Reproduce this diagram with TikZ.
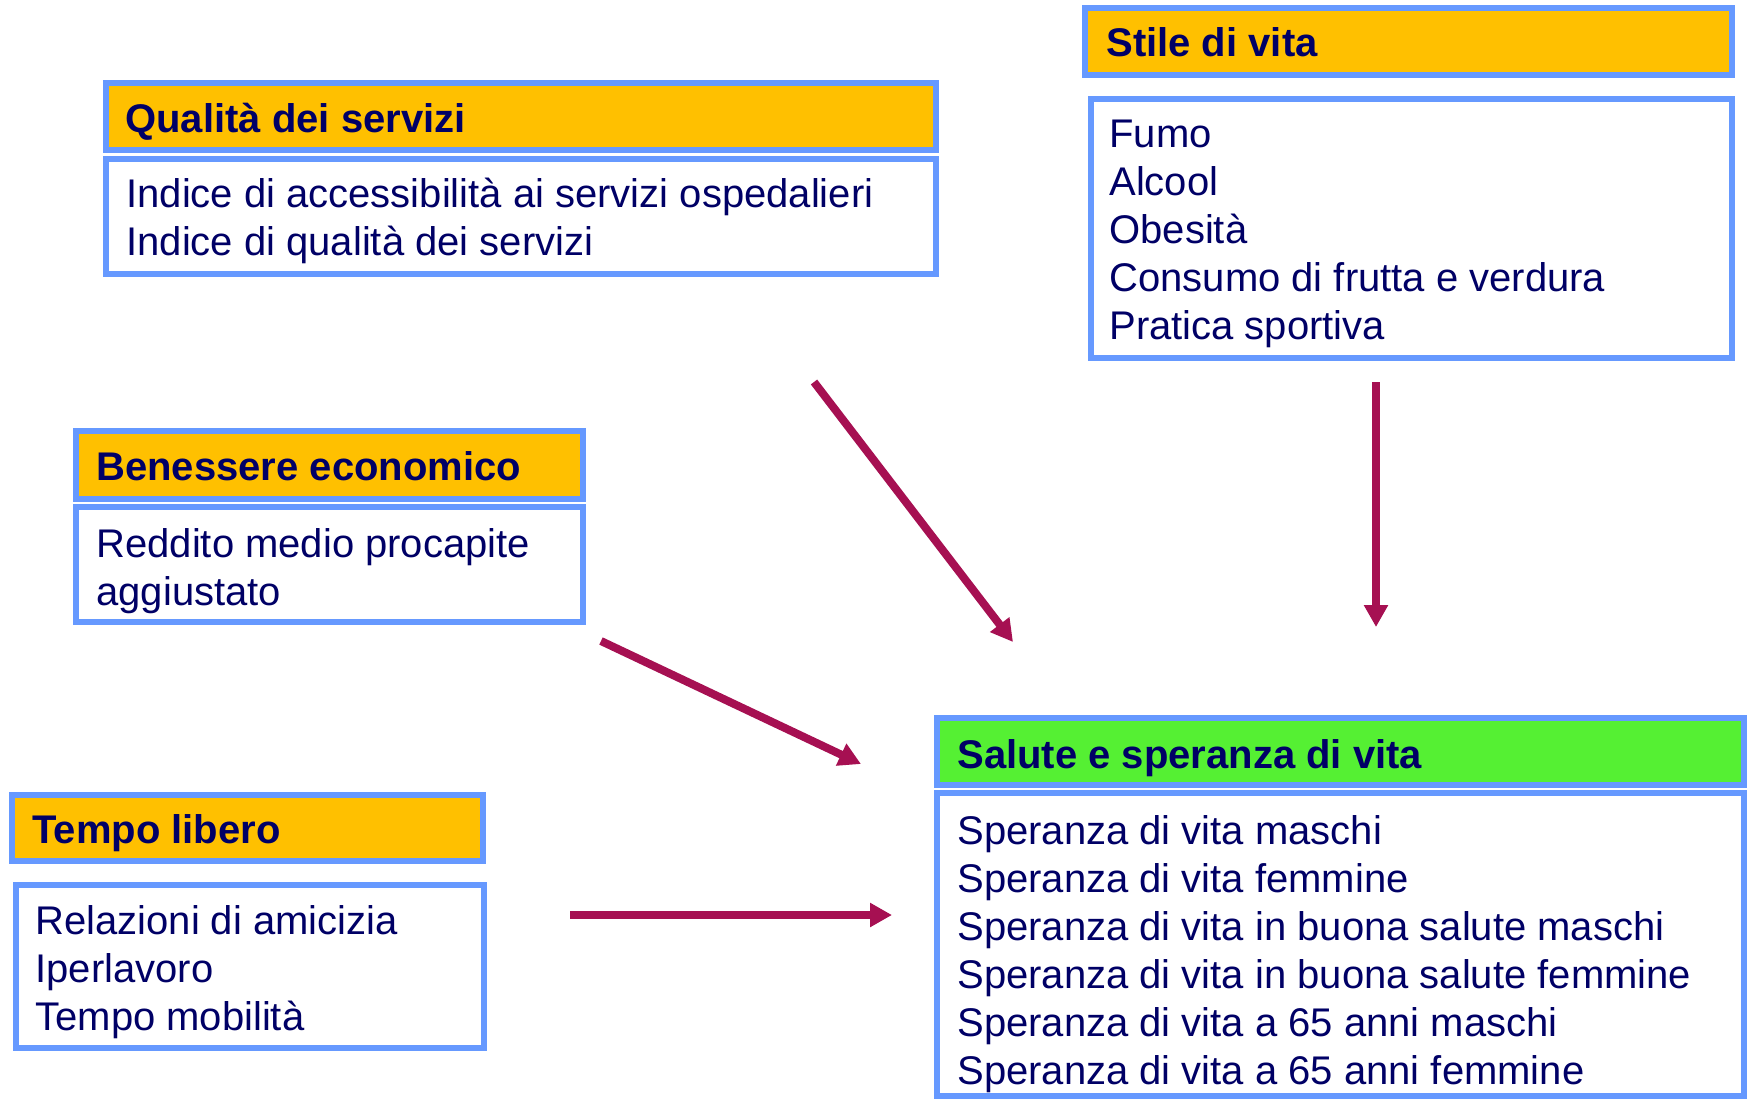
\documentclass[tikz,border=0pt]{standalone}
\usepackage{fontspec}
\setmainfont{Liberation Sans}
\usetikzlibrary{arrows.meta}
\definecolor{bord}{RGB}{102,153,255}
\definecolor{hdrfill}{RGB}{255,192,0}
\definecolor{grnfill}{RGB}{85,240,51}
\definecolor{txt}{RGB}{0,0,102}
\definecolor{arr}{RGB}{166,16,82}
\tikzset{
  box/.style={draw=bord, line width=3pt, inner sep=0pt, outer sep=0pt, anchor=north west, rectangle},
  hdrbox/.style={box, fill=hdrfill},
  grnbox/.style={box, fill=grnfill},
  bodybox/.style={box, fill=white},
  htext/.style={anchor=base west, inner sep=0pt, text=txt, font=\fontsize{20pt}{24pt}\selectfont\bfseries},
  btext/.style={anchor=north west, inner sep=0pt, text=txt, align=left, font=\fontsize{20pt}{24pt}\selectfont},
  conn/.style={draw=arr, line width=4pt, -{Triangle[length=11pt,width=11.5pt]}}
}
\newcommand{\fl}{\rule{0pt}{20pt}}
\begin{document}
\begin{tikzpicture}[x=0.5pt, y=-0.5pt]
\useasboundingbox (0,0) rectangle (1748,1099);
% Qualita dei servizi
\node[hdrbox, minimum width=415pt, minimum height=33.5pt] (qh) at (106,83) {};
\node[htext] (qht) at (125,132) {Qualità dei servizi};
\node[bodybox, minimum width=415pt, minimum height=57.5pt] (qb) at (106,159) {};
\node[btext] (qbt) at (126,167) {\fl Indice di accessibilità ai servizi ospedalieri\\Indice di qualità dei servizi};
% Stile di vita
\node[hdrbox, minimum width=323.5pt, minimum height=33.5pt] (sh) at (1085,8) {};
\node[htext] (sht) at (1106,56) {Stile di vita};
\node[bodybox, minimum width=320.5pt, minimum height=129.5pt] (sb) at (1091,99) {};
\node[btext] (sbt) at (1109,107) {\fl Fumo\\Alcool\\Obesità\\Consumo di frutta e verdura\\Pratica sportiva};
% Benessere economico
\node[hdrbox, minimum width=253.5pt, minimum height=34pt] (bh) at (76,431) {};
\node[htext] (bht) at (96,480) {Benessere economico};
\node[bodybox, minimum width=253.5pt, minimum height=57.5pt] (bb) at (76,507) {};
\node[btext] (bbt) at (96,517) {\fl Reddito medio procapite\\aggiustato};
% Tempo libero
\node[hdrbox, minimum width=235.5pt, minimum height=33pt] (th) at (12,795) {};
\node[htext] (tht) at (32,843) {Tempo libero};
\node[bodybox, minimum width=234pt, minimum height=81.5pt] (tb) at (16,885) {};
\node[btext] (tbt) at (35,894) {\fl Relazioni di amicizia\\Iperlavoro\\Tempo mobilità};
% Salute e speranza di vita
\node[grnbox, minimum width=403.5pt, minimum height=33.5pt] (gh) at (937,718) {};
\node[htext] (ght) at (957,768) {Salute e speranza di vita};
\node[bodybox, minimum width=403.5pt, minimum height=151.5pt] (gb) at (937,793) {};
\node[btext] (gbt) at (957,804) {\fl Speranza di vita maschi\\Speranza di vita femmine\\Speranza di vita in buona salute maschi\\Speranza di vita in buona salute femmine\\Speranza di vita a 65 anni maschi\\Speranza di vita a 65 anni femmine};
% arrows
\coordinate (a1s) at (814,382); \coordinate (a1e) at (1013,642);
\coordinate (a2s) at (1376,382); \coordinate (a2e) at (1376,627);
\coordinate (a3s) at (601,641); \coordinate (a3e) at (861,764);
\coordinate (a4s) at (570,915); \coordinate (a4e) at (892,915);
\draw[conn] (a1s) -- (a1e);
\draw[conn] (a2s) -- (a2e);
\draw[conn] (a3s) -- (a3e);
\draw[conn] (a4s) -- (a4e);
\end{tikzpicture}
\end{document}
